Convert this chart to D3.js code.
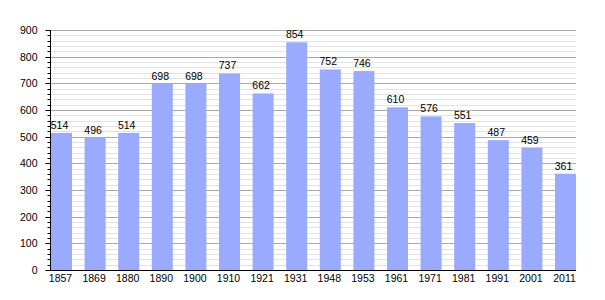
<!DOCTYPE html>
<html>
<head>
<meta charset="utf-8">
<script src="https://cdn.jsdelivr.net/npm/d3@7"></script>
<style>
  body { margin: 0; background: #fff; }
  text { font-family: "Liberation Sans", Arial, sans-serif; fill: #000; }
</style>
</head>
<body>
<div id="chart"></div>
<script>
// Population by census year
const years = ["1857", "1869", "1880", "1890", "1900", "1910", "1921", "1931",
               "1948", "1953", "1961", "1971", "1981", "1991", "2001", "2011"];
const population = [514, 496, 514, 698, 698, 737, 662, 854,
                    752, 746, 610, 576, 551, 487, 459, 361];
const majorTicks = [0, 100, 200, 300, 400, 500, 600, 700, 800, 900];

const width = 605;
const height = 300;
const margin = { top: 30, right: 29, bottom: 30, left: 51 };

const svg = d3.select("#chart")
    .append("svg")
    .attr("width", width)
    .attr("height", height);

const x = d3.scaleBand()
    .domain(years)
    .range([margin.left, width - margin.right])
    .paddingInner(0.375)
    .paddingOuter(0);

const y = d3.scaleLinear()
    .domain([0, 900])
    .range([height - margin.bottom, margin.top]);

const minorTicks = d3.range(0, 901, 20).filter(v => v % 100 !== 0);

// grid lines
svg.append("g")
    .selectAll("line")
    .data(minorTicks)
    .enter()
    .append("line")
    .attr("x1", margin.left - 1)
    .attr("x2", width - margin.right)
    .attr("y1", d => Math.round(y(d)) + 0.5)
    .attr("y2", d => Math.round(y(d)) + 0.5)
    .attr("stroke", "#e2e2e2");

svg.append("g")
    .selectAll("line")
    .data(majorTicks)
    .enter()
    .append("line")
    .attr("x1", margin.left - 1)
    .attr("x2", width - margin.right)
    .attr("y1", d => Math.round(y(d)) + 0.5)
    .attr("y2", d => Math.round(y(d)) + 0.5)
    .attr("stroke", "#aaaaaa");

// bars
svg.append("g")
    .selectAll("rect")
    .data(population)
    .enter()
    .append("rect")
    .attr("x", (d, i) => x(years[i]))
    .attr("y", d => y(d))
    .attr("width", x.bandwidth())
    .attr("height", d => y(0) - y(d))
    .attr("fill", "#99aaff");

// value labels
svg.append("g")
    .selectAll("text")
    .data(population)
    .enter()
    .append("text")
    .attr("x", (d, i) => x(years[i]) + x.bandwidth() / 2 - 2)
    .attr("y", d => y(d) - 4)
    .attr("text-anchor", "middle")
    .attr("font-size", "10.5px")
    .text(d => d);

// y axis
const yAxis = svg.append("g")
    .attr("transform", `translate(${margin.left - 0.5},0)`);

yAxis.append("line")
    .attr("y1", margin.top)
    .attr("y2", height - margin.bottom)
    .attr("stroke", "#000");

yAxis.selectAll(".minor")
    .data(minorTicks)
    .enter()
    .append("line")
    .attr("x1", -3)
    .attr("x2", 0)
    .attr("y1", d => Math.round(y(d)) + 0.5)
    .attr("y2", d => Math.round(y(d)) + 0.5)
    .attr("stroke", "#000");

yAxis.selectAll(".major")
    .data(majorTicks)
    .enter()
    .append("line")
    .attr("x1", -5)
    .attr("x2", 0)
    .attr("y1", d => Math.round(y(d)) + 0.5)
    .attr("y2", d => Math.round(y(d)) + 0.5)
    .attr("stroke", "#000");

yAxis.selectAll("text")
    .data(majorTicks)
    .enter()
    .append("text")
    .attr("x", -13)
    .attr("y", d => y(d) + 4)
    .attr("text-anchor", "end")
    .attr("font-size", "10.5px")
    .text(d => d);

// x axis
svg.append("line")
    .attr("x1", margin.left - 1)
    .attr("x2", width - margin.right)
    .attr("y1", y(0) + 0.5)
    .attr("y2", y(0) + 0.5)
    .attr("stroke", "#000");

svg.append("g")
    .selectAll("text")
    .data(years)
    .enter()
    .append("text")
    .attr("x", d => x(d) + x.bandwidth() / 2 - 1)
    .attr("y", height - margin.bottom + 12)
    .attr("text-anchor", "middle")
    .attr("font-size", "10.5px")
    .text(d => d);
</script>
</body>
</html>
